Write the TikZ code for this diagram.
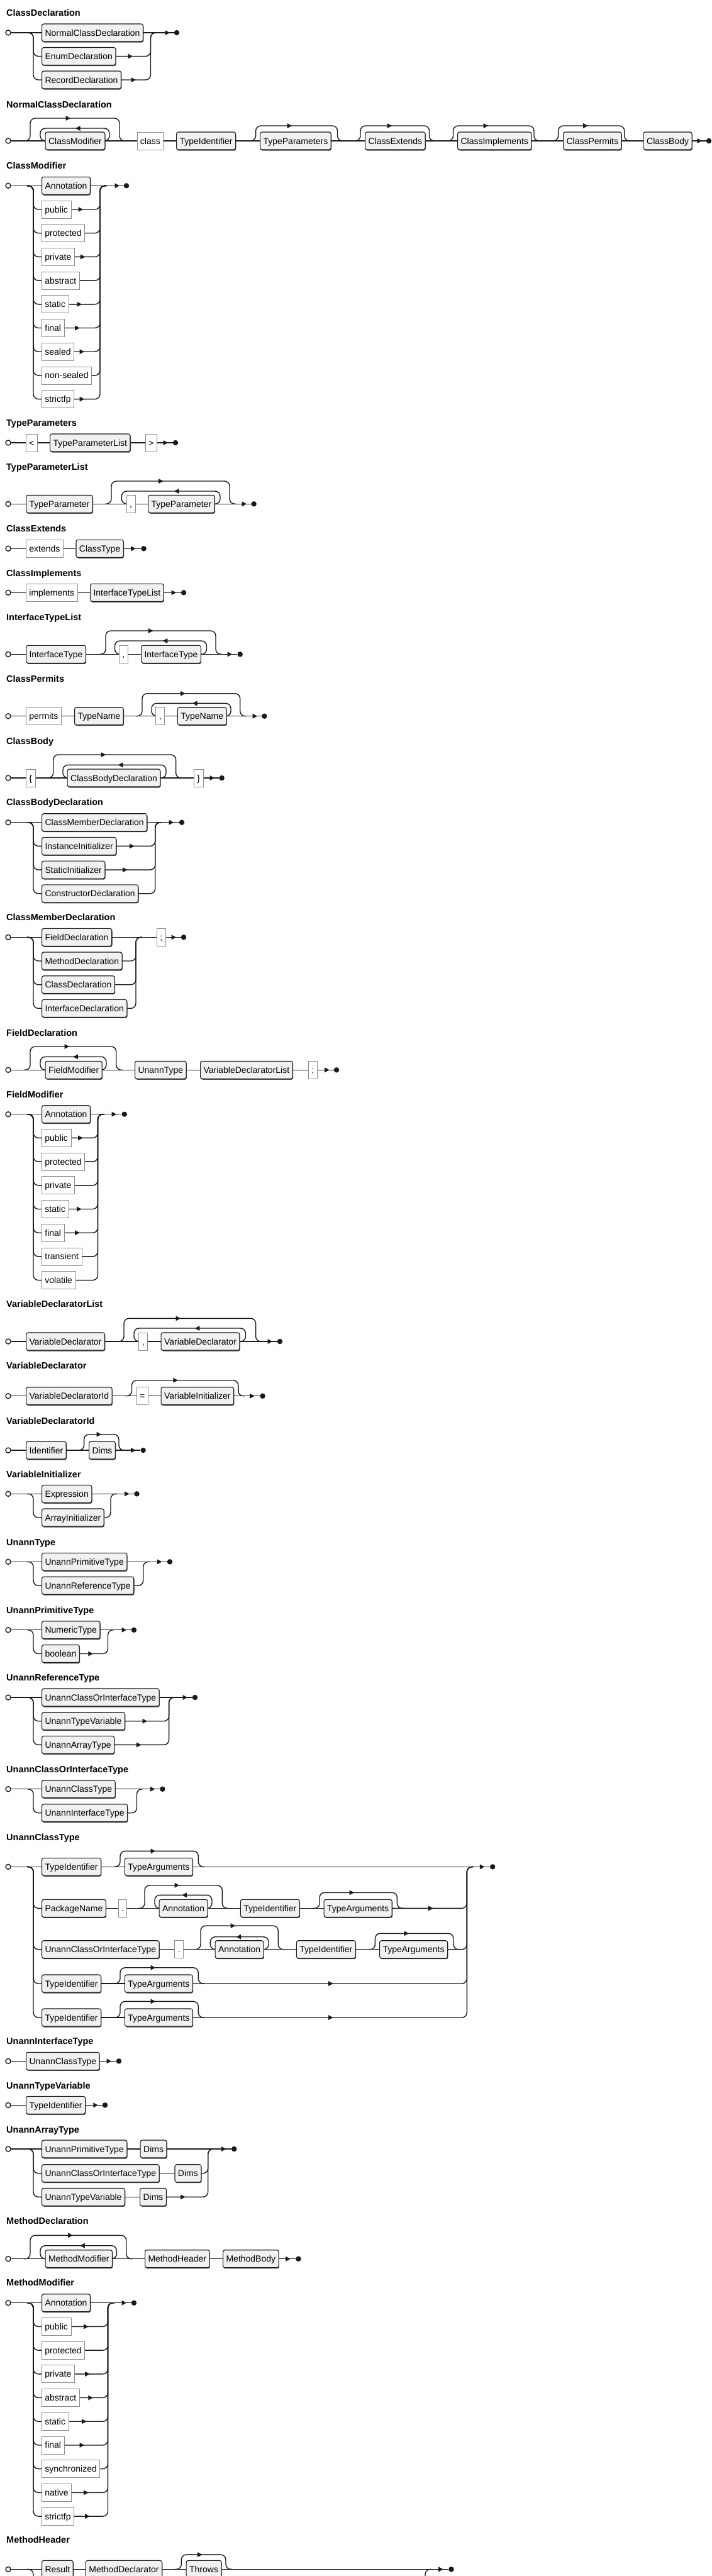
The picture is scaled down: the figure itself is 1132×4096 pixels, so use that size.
\documentclass[tikz,border=0pt]{standalone}
\usepackage{fontspec}
\newfontfamily\rrsans{Liberation Sans}
\usetikzlibrary{shadows}
\definecolor{linec}{HTML}{1A1A1A}
\definecolor{ntfill}{HTML}{F1F1F1}
\definecolor{ntborder}{HTML}{1A1A1A}
\definecolor{tmborder}{HTML}{8C8C8C}
\pgfdeclarelayer{bg}
\pgfsetlayers{bg,main}
\newcommand\rrnf{\rrsans\fontsize{14}{16}\selectfont}
\newcommand\rrtf{\rrsans\bfseries\fontsize{14.5}{17}\selectfont}
\tikzset{
 rail/.style={draw=linec,line width=1.4pt},
 boxbase/.style={anchor=west,minimum height=28pt,inner xsep=5pt,inner ysep=0pt,text height=10pt,text depth=0pt,font=\rrnf,text=black},
 nt/.style={boxbase,draw=ntborder,fill=ntfill,rounded corners=3pt,line width=1.1pt,drop shadow={shadow xshift=0.8pt,shadow yshift=-1.5pt,opacity=0.7,fill=black}},
 tm/.style={boxbase,draw=tmborder,fill=white,line width=0.8pt},
 startc/.style={circle,draw=linec,fill=white,line width=1.4pt,minimum size=8pt,inner sep=0pt},
 endd/.style={circle,fill=linec,minimum size=8.5pt,inner sep=0pt},
 ttl/.style={anchor=base west,inner sep=0pt,font=\rrtf},
}
\newcommand\rarw[2]{\fill[linec] (#1-3.5,#2-4) -- (#1+4,#2) -- (#1-3.5,#2+4) -- cycle;}
\newcommand\larw[2]{\fill[linec] (#1+3.5,#2-4) -- (#1-4,#2) -- (#1+3.5,#2+4) -- cycle;}
% optional bypass: xl xr ymain ytop arrowx
\newcommand\rrOpt[5]{\begin{pgfonlayer}{bg}\draw[rail,rounded corners=8pt] (#1-10,#3) -- (#1,#3) -- (#1,#4) -- (#2,#4) -- (#2,#3) -- (#2+10,#3);\end{pgfonlayer}\rarw{#5}{#4}}
% loop back: xl xr ymain ytop arrowx
\newcommand\rrLoop[5]{\begin{pgfonlayer}{bg}\draw[rail,rounded corners=8pt] (#2-10,#3) -- (#2,#3) -- (#2,#4) -- (#1,#4) -- (#1,#3) -- (#1+10,#3);\end{pgfonlayer}\larw{#5}{#4}}
% choice row: name style y0 yi xR text
\newcommand\rrRow[6]{\node[#2] (#1) at (66,#4) {#6};
 \begin{pgfonlayer}{bg}
 \draw[rail,rounded corners=8pt] (43,#3) -- (53,#3) |- (#1.west);
 \draw[rail,rounded corners=8pt] (#1.east) -| (#5,#3) -- (#5+10,#3);
 \end{pgfonlayer}}
\newcommand\rrMain[1]{\begin{pgfonlayer}{bg}\draw[rail] #1;\end{pgfonlayer}}
\begin{document}
\begin{tikzpicture}[x=1pt,y=-1pt]
\begin{pgfonlayer}{bg}\fill[white] (0,0) rectangle (1132,4096);\end{pgfonlayer}
\useasboundingbox (0,0) rectangle (1132,4096);

% ---------- ClassDeclaration
\node[ttl] (t1) at (10,25.5) {ClassDeclaration};
\node[startc] (s1) at (13,52) {};
\node[nt] (a1) at (66,52) {NormalClassDeclaration};
\node[endd] (e1) at (281,52) {};
\rrRow{a2}{nt}{52}{89.5}{239.5}{EnumDeclaration}
\rrRow{a3}{nt}{52}{127}{239.5}{RecordDeclaration}
\rrMain{(s1) -- (a1) -- (e1)}
\rarw{266}{52}\rarw{207}{89.5}\rarw{212}{127}

% ---------- NormalClassDeclaration
\node[ttl] (t2) at (10,171.2) {NormalClassDeclaration};
\node[startc] (s2) at (13,224) {};
\node[nt] (b1) at (71.5,224) {ClassModifier};
\node[tm] (b2) at (217.5,224) {class};
\node[nt] (b3) at (280,224) {TypeIdentifier};
\node[nt] (b4) at (413,224) {TypeParameters};
\node[nt] (b5) at (580,224) {ClassExtends};
\node[nt] (b6) at (727,224) {ClassImplements};
\node[nt] (b7) at (895,224) {ClassPermits};
\node[nt] (b8) at (1022.6,224) {ClassBody};
\node[endd] (e2) at (1127,224) {};
\rrMain{(s2) -- (b1) -- (b2) -- (b3) -- (b4) -- (b5) -- (b6) -- (b7) -- (b8) -- (e2)}
\rrOpt{48}{190}{224}{188}{108}
\rrLoop{64}{174}{224}{204}{124}
\rrOpt{406.6}{536.5}{224}{200}{460}
\rrOpt{573}{682.5}{224}{200}{619}
\rrOpt{720.5}{849}{224}{200}{772}
\rrOpt{887.6}{992.7}{224}{200}{930.7}
\rarw{1112}{224}

% ---------- ClassModifier
\node[ttl] (t3) at (10,268.8) {ClassModifier};
\node[startc] (s3) at (13,295.3) {};
\node[nt] (c1) at (66,295.3) {Annotation};
\node[endd] (e3) at (201,295.3) {};
\rrMain{(s3) -- (c1) -- (e3)}
\rarw{186}{295.3}
\rrRow{c2}{tm}{295.3}{333.0}{159}{public}\rarw{128}{333.0}
\rrRow{c3}{tm}{295.3}{370.7}{159}{protected}
\rrRow{c4}{tm}{295.3}{408.4}{159}{private}\rarw{131.4}{408.4}
\rrRow{c5}{tm}{295.3}{446.1}{159}{abstract}
\rrRow{c6}{tm}{295.3}{483.8}{159}{static}\rarw{126}{483.8}
\rrRow{c7}{tm}{295.3}{521.5}{159}{final}\rarw{122.6}{521.5}
\rrRow{c8}{tm}{295.3}{559.2}{159}{sealed}\rarw{130}{559.2}
\rrRow{c9}{tm}{295.3}{596.9}{159}{non-sealed}
\rrRow{c10}{tm}{295.3}{634.6}{159}{strictfp}\rarw{130}{634.6}

% ---------- TypeParameters
\node[ttl] (t4) at (10,677.5) {TypeParameters};
\node[startc] (s4) at (13,704) {};
\node[tm] (d1) at (41,704) {<};
\node[nt] (d2) at (79,704) {TypeParameterList};
\node[tm] (d3) at (230.7,704) {>};
\node[endd] (e4) at (279,704) {};
\rrMain{(s4) -- (d1) -- (d2) -- (d3) -- (e4)}
\rarw{263}{704}

% ---------- TypeParameterList
\node[ttl] (t5) at (10,747.8) {TypeParameterList};
\node[startc] (s5) at (13,801.3) {};
\node[nt] (f1) at (41,801.3) {TypeParameter};
\node[tm] (f2) at (200.7,801.3) {,};
\node[nt] (f3) at (235,801.3) {TypeParameter};
\node[endd] (e5) at (403.6,801.3) {};
\rrMain{(s5) -- (f1) -- (f2) -- (f3) -- (e5)}
\rrOpt{177}{365}{801.3}{765}{255.5}
\rrLoop{193.4}{350}{801.3}{781}{281}
\rarw{388}{801.3}

% ---------- ClassExtends
\node[ttl] (t6) at (10,845.2) {ClassExtends};
\node[startc] (s6) at (13,872.3) {};
\node[tm] (g1) at (41,872.3) {extends};
\node[nt] (g2) at (120.4,872.3) {ClassType};
\node[endd] (e6) at (228.5,872.3) {};
\rrMain{(s6) -- (g1) -- (g2) -- (e6)}
\rarw{211.7}{872.3}

% ---------- ClassImplements
\node[ttl] (t7) at (10,916.8) {ClassImplements};
\node[startc] (s7) at (13,942.3) {};
\node[tm] (h1) at (41,942.3) {implements};
\node[nt] (h2) at (143,942.3) {InterfaceTypeList};
\node[endd] (e7) at (292,942.3) {};
\rrMain{(s7) -- (h1) -- (h2) -- (e7)}
\rarw{276}{942.3}

% ---------- InterfaceTypeList
\node[ttl] (t8) at (10,986.2) {InterfaceTypeList};
\node[startc] (s8) at (13,1040.3) {};
\node[nt] (i1) at (41,1040.3) {InterfaceType};
\node[tm] (i2) at (189,1040.3) {,};
\node[nt] (i3) at (224,1040.3) {InterfaceType};
\node[endd] (e8) at (381.7,1040.3) {};
\rrMain{(s8) -- (i1) -- (i2) -- (i3) -- (e8)}
\rrOpt{168}{343}{1040.3}{1003}{239.4}
\rrLoop{182.5}{328.5}{1040.3}{1019}{262.8}
\rarw{365}{1040.3}

% ---------- ClassPermits
\node[ttl] (t9) at (10,1084.8) {ClassPermits};
\node[startc] (s9) at (13,1138.7) {};
\node[tm] (j1) at (41,1138.7) {permits};
\node[nt] (j2) at (118,1138.7) {TypeName};
\node[tm] (j3) at (247.4,1138.7) {,};
\node[nt] (j4) at (281.8,1138.7) {TypeName};
\node[endd] (e9) at (420.4,1138.7) {};
\rrMain{(s9) -- (j1) -- (j2) -- (j3) -- (j4) -- (e9)}
\rrOpt{226}{381.7}{1138.7}{1102.7}{290.5}
\rrLoop{241}{367}{1138.7}{1118.3}{310}
\rarw{405}{1138.7}

% ---------- ClassBody
\node[ttl] (t10) at (10,1183.2) {ClassBody};
\node[startc] (s10) at (13,1237) {};
\node[tm] (k1) at (41,1237) {\{};
\node[nt] (k2) at (106.6,1237) {ClassBodyDeclaration};
\node[tm] (k3) at (308,1237) {\}};
\node[endd] (e10) at (352.6,1237) {};
\rrMain{(s10) -- (k1) -- (k2) -- (k3) -- (e10)}
\rrOpt{84.7}{279.6}{1237}{1200}{164}
\rrLoop{100}{264}{1237}{1216.3}{192}
\rarw{337}{1237}

% ---------- ClassBodyDeclaration
\node[ttl] (t11) at (10,1280.8) {ClassBodyDeclaration};
\node[startc] (s11) at (13,1307.7) {};
\node[nt] (l1) at (66,1307.7) {ClassMemberDeclaration};
\node[endd] (e11) at (289,1307.7) {};
\rrMain{(s11) -- (l1) -- (e11)}
\rarw{272}{1307.7}
\rrRow{l2}{nt}{1307.7}{1345.4}{246.7}{InstanceInitializer}\rarw{209.5}{1345.4}
\rrRow{l3}{nt}{1307.7}{1383.1}{246.7}{StaticInitializer}\rarw{198.5}{1383.1}
\rrRow{l4}{nt}{1307.7}{1420.8}{246.7}{ConstructorDeclaration}

% ---------- ClassMemberDeclaration
\node[ttl] (t12) at (10,1463.5) {ClassMemberDeclaration};
\node[startc] (s12) at (13,1490.3) {};
\node[nt] (m1) at (66,1490.3) {FieldDeclaration};
\node[tm] (m5) at (249,1490.3) {;};
\node[endd] (e12) at (292,1490.3) {};
\rrMain{(s12) -- (m1) -- (m5) -- (e12)}
\rarw{276}{1490.3}
\rrRow{m2}{nt}{1490.3}{1528.0}{216}{MethodDeclaration}
\rrRow{m3}{nt}{1490.3}{1565.7}{216}{ClassDeclaration}
\rrRow{m4}{nt}{1490.3}{1603.4}{216}{InterfaceDeclaration}

% ---------- FieldDeclaration
\node[ttl] (t13) at (10,1647.5) {FieldDeclaration};
\node[startc] (s13) at (13,1701.3) {};
\node[nt] (n1) at (71.5,1701.3) {FieldModifier};
\node[nt] (n2) at (214,1701.3) {UnannType};
\node[nt] (n3) at (318,1701.3) {VariableDeclaratorList};
\node[tm] (n4) at (490,1701.3) {;};
\node[endd] (e13) at (535,1701.3) {};
\rrMain{(s13) -- (n1) -- (n2) -- (n3) -- (n4) -- (e13)}
\rrOpt{48}{184.7}{1701.3}{1664}{106}
\rrLoop{64}{169}{1701.3}{1680.3}{120.4}
\rarw{519.7}{1701.3}

% ---------- FieldModifier
\node[ttl] (t14) at (10,1745.5) {FieldModifier};
\node[startc] (s14) at (13,1771.7) {};
\node[nt] (o1) at (66,1771.7) {Annotation};
\node[endd] (e14) at (197.8,1771.7) {};
\rrMain{(s14) -- (o1) -- (e14)}
\rarw{181}{1771.7}
\rrRow{o2}{tm}{1771.7}{1809.4}{155.5}{public}\rarw{127.7}{1809.4}
\rrRow{o3}{tm}{1771.7}{1847.1}{155.5}{protected}
\rrRow{o4}{tm}{1771.7}{1884.8}{155.5}{private}
\rrRow{o5}{tm}{1771.7}{1922.5}{155.5}{static}\rarw{125.5}{1922.5}
\rrRow{o6}{tm}{1771.7}{1960.2}{155.5}{final}\rarw{122.6}{1960.2}
\rrRow{o7}{tm}{1771.7}{1997.9}{155.5}{transient}
\rrRow{o8}{tm}{1771.7}{2035.6}{155.5}{volatile}

% ---------- VariableDeclaratorList
\node[ttl] (t15) at (10,2078.5) {VariableDeclaratorList};
\node[startc] (s15) at (13,2133) {};
\node[nt] (p1) at (41,2133) {VariableDeclarator};
\node[tm] (p2) at (220.4,2133) {,};
\node[nt] (p3) at (255.5,2133) {VariableDeclarator};
\node[endd] (e15) at (445,2133) {};
\rrMain{(s15) -- (p1) -- (p2) -- (p3) -- (e15)}
\rrOpt{197}{406.6}{2133}{2096.3}{283}
\rrLoop{213}{390.5}{2133}{2112}{313.9}
\rarw{429}{2133}

% ---------- VariableDeclarator
\node[ttl] (t16) at (10,2176.8) {VariableDeclarator};
\node[startc] (s16) at (13,2219.7) {};
\node[nt] (q1) at (41,2219.7) {VariableDeclaratorId};
\node[tm] (q2) at (216.8,2219.7) {=};
\node[nt] (q3) at (255.5,2219.7) {VariableInitializer};
\node[endd] (e16) at (417.5,2219.7) {};
\rrMain{(s16) -- (q1) -- (q2) -- (q3) -- (e16)}
\rrOpt{209.5}{378.8}{2219.7}{2194.7}{278.8}
\rarw{400.7}{2219.7}

% ---------- VariableDeclaratorId
\node[ttl] (t17) at (10,2264.2) {VariableDeclaratorId};
\node[startc] (s17) at (13,2306) {};
\node[nt] (r1) at (41,2306) {Identifier};
\node[nt] (r2) at (141,2306) {Dims};
\node[endd] (e17) at (227.7,2306) {};
\rrMain{(s17) -- (r1) -- (r2) -- (e17)}
\rrOpt{133.6}{189}{2306}{2280.7}{157}
\rarw{211.7}{2306}

% ---------- VariableInitializer
\node[ttl] (t18) at (10,2349.5) {VariableInitializer};
\node[startc] (s18) at (13,2375.3) {};
\node[nt] (u1) at (66,2375.3) {Expression};
\node[endd] (e18) at (217.5,2375.3) {};
\rrMain{(s18) -- (u1) -- (e18)}
\rarw{201.5}{2375.3}
\rrRow{u2}{nt}{2375.3}{2413}{176}{ArrayInitializer}

% ---------- UnannType
\node[ttl] (t19) at (10,2457.8) {UnannType};
\node[startc] (s19) at (13,2483.3) {};
\node[nt] (v1) at (66,2483.3) {UnannPrimitiveType};
\node[endd] (e19) at (270,2483.3) {};
\rrMain{(s19) -- (v1) -- (e19)}
\rarw{253.3}{2483.3}
\rrRow{v2}{nt}{2483.3}{2521.2}{227.7}{UnannReferenceType}

% ---------- UnannPrimitiveType
\node[ttl] (t20) at (10,2565.5) {UnannPrimitiveType};
\node[startc] (s20) at (13,2591.7) {};
\node[nt] (w1) at (66,2591.7) {NumericType};
\node[endd] (e20) at (213,2591.7) {};
\rrMain{(s20) -- (w1) -- (e20)}
\rarw{197}{2591.7}
\rrRow{w2}{nt}{2591.7}{2629.5}{171.5}{boolean}\rarw{143.8}{2629.5}

% ---------- UnannReferenceType
\node[ttl] (t21) at (10,2672.8) {UnannReferenceType};
\node[startc] (s21) at (13,2699) {};
\node[nt] (x1) at (66,2699) {UnannClassOrInterfaceType};
\node[endd] (e21) at (310,2699) {};
\rrMain{(s21) -- (x1) -- (e21)}
\rarw{294}{2699}
\rrRow{x2}{nt}{2699}{2736.7}{268.6}{UnannTypeVariable}\rarw{230}{2736.7}
\rrRow{x3}{nt}{2699}{2774.4}{268.6}{UnannArrayType}\rarw{220.4}{2774.4}

% ---------- UnannClassOrInterfaceType
\node[ttl] (t22) at (10,2818.8) {UnannClassOrInterfaceType};
\node[startc] (s22) at (13,2844.7) {};
\node[nt] (y1) at (66,2844.7) {UnannClassType};
\node[endd] (e22) at (258.4,2844.7) {};
\rrMain{(s22) -- (y1) -- (e22)}
\rarw{242.3}{2844.7}
\rrRow{y2}{nt}{2844.7}{2882.7}{217.5}{UnannInterfaceType}

% ---------- UnannClassType
\node[ttl] (t23) at (10,2926.8) {UnannClassType};
\node[startc] (s23) at (13,2968.3) {};
\node[nt] (z1) at (66,2968.3) {TypeIdentifier};
\node[nt] (z2) at (197.8,2968.3) {TypeArguments};
\node[endd] (e23) at (783.2,2968.3) {};
\rrMain{(s23) -- (z1) -- (z2) -- (e23)}
\rrOpt{191}{315.3}{2968.3}{2943.3}{243}
\rarw{766.4}{2968.3}
% row 2
\node[nt] (z3) at (66,3034.3) {PackageName};
\node[tm] (z4) at (187.6,3034.3) {.};
\node[nt] (z5) at (252.6,3034.3) {Annotation};
\node[nt] (z6) at (381.8,3034.3) {TypeIdentifier};
\node[nt] (z7) at (514.6,3034.3) {TypeArguments};
\begin{pgfonlayer}{bg}
\draw[rail,rounded corners=8pt] (43,2968.3) -- (53,2968.3) |- (z3.west);
\draw[rail] (z3) -- (z4) -- (z5) -- (z6) -- (z7);
\draw[rail,rounded corners=8pt] (z7.east) -| (742.3,2968.3) -- (752.3,2968.3);
\end{pgfonlayer}
\rrOpt{230}{353.3}{3034.3}{2997.7}{281}
\rrLoop{246}{337}{3034.3}{3013.3}{293.4}
\rrOpt{508}{631.4}{3034.3}{3009.3}{559}
\rarw{684.7}{3034.3}
% row 3
\node[nt] (z8) at (66,3099.7) {UnannClassOrInterfaceType};
\node[tm] (z9) at (277.4,3099.7) {.};
\node[nt] (z10) at (341.6,3099.7) {Annotation};
\node[nt] (z11) at (470.8,3099.7) {TypeIdentifier};
\node[nt] (z12) at (603,3099.7) {TypeArguments};
\begin{pgfonlayer}{bg}
\draw[rail,rounded corners=8pt] (43,2968.3) -- (53,2968.3) |- (z8.west);
\draw[rail] (z8) -- (z9) -- (z10) -- (z11) -- (z12);
\draw[rail,rounded corners=8pt] (z12.east) -| (742.3,2968.3) -- (752.3,2968.3);
\end{pgfonlayer}
\rrOpt{319}{442.3}{3099.7}{3062}{370}
\rrLoop{334.3}{427}{3099.7}{3079.7}{379.6}
\rrOpt{596.4}{721}{3099.7}{3074.3}{646}
% row 4
\node[nt] (z13) at (66,3154) {TypeIdentifier};
\node[nt] (z14) at (197.8,3154) {TypeArguments};
\begin{pgfonlayer}{bg}
\draw[rail,rounded corners=8pt] (43,2968.3) -- (53,2968.3) |- (z13.west);
\draw[rail] (z13) -- (z14);
\draw[rail,rounded corners=8pt] (z14.east) -| (742.3,2968.3) -- (752.3,2968.3);
\end{pgfonlayer}
\rrOpt{191}{315.3}{3154}{3128.7}{243}
\rarw{525.5}{3154}
% row 5
\node[nt] (z15) at (66,3208) {TypeIdentifier};
\node[nt] (z16) at (197.8,3208) {TypeArguments};
\begin{pgfonlayer}{bg}
\draw[rail,rounded corners=8pt] (43,2968.3) -- (53,2968.3) |- (z15.west);
\draw[rail] (z15) -- (z16);
\draw[rail,rounded corners=8pt] (z16.east) -| (742.3,2968.3) -- (752.3,2968.3);
\end{pgfonlayer}
\rrOpt{191}{315.3}{3208}{3182.3}{243}
\rarw{525.5}{3208}

% ---------- UnannInterfaceType
\node[ttl] (t24) at (10,3250.2) {UnannInterfaceType};
\node[startc] (s24) at (13,3277.3) {};
\node[nt] (aa1) at (41,3277.3) {UnannClassType};
\node[endd] (e24) at (189,3277.3) {};
\rrMain{(s24) -- (aa1) -- (e24)}
\rarw{173}{3277.3}

% ---------- UnannTypeVariable
\node[ttl] (t25) at (10,3321.8) {UnannTypeVariable};
\node[startc] (s25) at (13,3347.3) {};
\node[nt] (ab1) at (41,3347.3) {TypeIdentifier};
\node[endd] (e25) at (167,3347.3) {};
\rrMain{(s25) -- (ab1) -- (e25)}
\rarw{151.8}{3347.3}

% ---------- UnannArrayType
\node[ttl] (t26) at (10,3391.8) {UnannArrayType};
\node[startc] (s26) at (13,3417) {};
\node[nt] (ac1) at (66,3417) {UnannPrimitiveType};
\node[nt] (ac2) at (222.6,3417) {Dims};
\node[endd] (e26) at (372.3,3417) {};
\rrMain{(s26) -- (ac1) -- (ac2) -- (e26)}
\rarw{355.5}{3417}
\node[nt] (ac3) at (66,3455.7) {UnannClassOrInterfaceType};
\node[nt] (ac4) at (277.4,3455.7) {Dims};
\node[nt] (ac5) at (66,3493.3) {UnannTypeVariable};
\node[nt] (ac6) at (222,3493.3) {Dims};
\begin{pgfonlayer}{bg}
\draw[rail,rounded corners=8pt] (43,3417) -- (53,3417) |- (ac3.west);
\draw[rail,rounded corners=8pt] (43,3417) -- (53,3417) |- (ac5.west);
\draw[rail] (ac3) -- (ac4);
\draw[rail] (ac5) -- (ac6);
\draw[rail,rounded corners=8pt] (ac4.east) -| (330.7,3417) -- (340.7,3417);
\draw[rail,rounded corners=8pt] (ac6.east) -| (330.7,3417) -- (340.7,3417);
\end{pgfonlayer}
\rarw{290.5}{3493.3}

% ---------- MethodDeclaration
\node[ttl] (t27) at (10,3536.5) {MethodDeclaration};
\node[startc] (s27) at (13,3591.7) {};
\node[nt] (ad1) at (71.5,3591.7) {MethodModifier};
\node[nt] (ad2) at (230,3591.7) {MethodHeader};
\node[nt] (ad3) at (354,3591.7) {MethodBody};
\node[endd] (e27) at (474.5,3591.7) {};
\rrMain{(s27) -- (ad1) -- (ad2) -- (ad3) -- (e27)}
\rrOpt{48}{200.7}{3591.7}{3554.3}{111.7}
\rrLoop{64}{185.4}{3591.7}{3570.7}{131.4}
\rarw{457.7}{3591.7}

% ---------- MethodModifier
\node[ttl] (t28) at (10,3634.5) {MethodModifier};
\node[startc] (s28) at (13,3661.7) {};
\node[nt] (ae1) at (66,3661.7) {Annotation};
\node[endd] (e28) at (213,3661.7) {};
\rrMain{(s28) -- (ae1) -- (e28)}
\rarw{197}{3661.7}
\rrRow{ae2}{tm}{3661.7}{3699.4}{171.5}{public}\rarw{136.5}{3699.4}
\rrRow{ae3}{tm}{3661.7}{3737.1}{171.5}{protected}
\rrRow{ae4}{tm}{3661.7}{3774.8}{171.5}{private}\rarw{138.7}{3774.8}
\rrRow{ae5}{tm}{3661.7}{3812.5}{171.5}{abstract}\rarw{143.8}{3812.5}
\rrRow{ae6}{tm}{3661.7}{3850.2}{171.5}{static}\rarw{133.6}{3850.2}
\rrRow{ae7}{tm}{3661.7}{3887.9}{171.5}{final}\rarw{130}{3887.9}
\rrRow{ae8}{tm}{3661.7}{3925.6}{171.5}{synchronized}
\rrRow{ae9}{tm}{3661.7}{3963.3}{171.5}{native}\rarw{136.5}{3963.3}
\rrRow{ae10}{tm}{3661.7}{4001.0}{171.5}{strictfp}\rarw{138.7}{4001.0}

% ---------- MethodHeader
\node[ttl] (t29) at (10,4043.5) {MethodHeader};
\node[startc] (s29) at (13,4085.3) {};
\node[nt] (af1) at (66,4085.3) {Result};
\node[nt] (af2) at (135.8,4085.3) {MethodDeclarator};
\node[nt] (af3) at (295.6,4085.3) {Throws};
\node[endd] (e29) at (717.5,4085.3) {};
\coordinate (af4) at (53,4120);
\coordinate (af5) at (676,4120);
\rrMain{(s29) -- (af1) -- (af2) -- (af3) -- (e29)}
\begin{pgfonlayer}{bg}
\draw[rail,rounded corners=8pt] (43,4085.3) -- (53,4085.3) -- (af4);
\draw[rail,rounded corners=8pt] (af5) -- (676,4085.3) -- (686,4085.3);
\end{pgfonlayer}
\rrOpt{288.3}{359}{4085.3}{4062}{317.5}
\rarw{700.7}{4085.3}
\end{tikzpicture}
\end{document}
